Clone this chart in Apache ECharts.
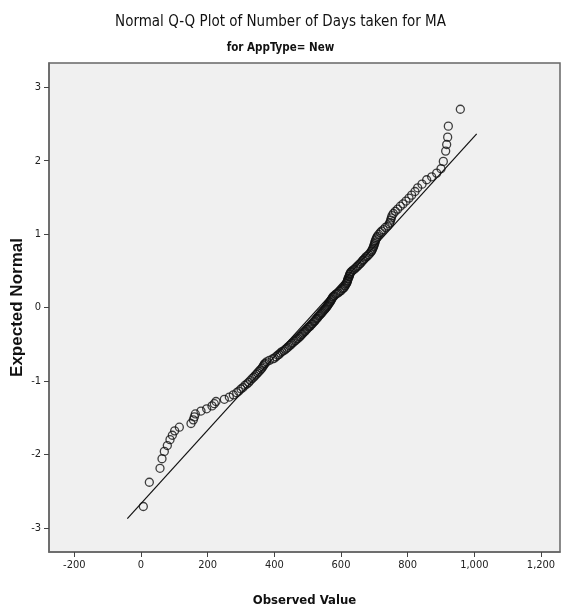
<!DOCTYPE html>
<html>
<head>
<meta charset="utf-8">
<script src="https://cdn.jsdelivr.net/npm/echarts@6/dist/echarts.min.js"></script>
<style>
html,body{margin:0;padding:0;background:#fff;}
#c{width:561px;height:615px;}
</style>
</head>
<body>
<div id="c"></div>
<script>
var observed = [7,25,57,63,70,79,87,94,101,115,150,157,160,163,180,197,213,220,225,250,265,277,287,293,300,306,312,318,323,328,333,338,342,346,350,354,358,362,365,368,370,373,377,385,395,400,405,410,414,418,423,428,433,437,441,445,449,452,456,460,464,467,471,475,478,481,484,487,490,493,496,499,502,505,508,511,514,517,520,522,525,527,530,532,535,538,540,543,545,548,551,553,556,
558,560,562,564,566,568,570,571,573,575,577,580,584,588,592,596,600,603,606,609,611,613,615,617,618,619,620,621,622,624,625,626,627,629,632,636,640,644,648,651,655,658,662,665,668,672,675,679,683,687,690,692,694,696,698,699,701,702,703,705,707,709,713,718,722,727,733,740,745,747,749,751,753,757,763,770,778,786,795,804,812,822,830,843,857,872,887,900,907,914,917,920,922,958];
var expected = [-2.71,-2.38,-2.19,-2.06,-1.96,-1.88,-1.80,-1.74,-1.68,-1.63,-1.58,-1.53,-1.49,-1.45,-1.41,-1.38,-1.34,-1.31,-1.28,-1.25,-1.22,-1.19,-1.16,-1.14,-1.11,-1.09,-1.06,-1.04,-1.02,-0.995,-0.97,-0.95,-0.93,-0.91,-0.89,-0.87,-0.85,-0.83,-0.81,-0.79,-0.77,-0.76,-0.74,-0.72,-0.70,-0.69,-0.67,-0.65,-0.64,-0.62,-0.60,-0.59,-0.57,-0.555,-0.54,-0.52,-0.51,-0.49,-0.48,-0.46,-0.45,-0.43,-0.42,-0.40,-0.39,-0.37,-0.36,-0.345,-0.33,-0.32,-0.30,-0.29,-0.27,-0.26,-0.25,-0.23,-0.22,-0.20,-0.19,-0.18,-0.16,-0.15,-0.14,-0.12,-0.11,-0.095,-0.08,-0.07,-0.054,-0.04,-0.027,-0.014,0,
0.014,0.027,0.04,0.054,0.07,0.08,0.095,0.11,0.12,0.14,0.15,0.16,0.18,0.19,0.20,0.22,0.23,0.25,0.26,0.27,0.29,0.30,0.32,0.33,0.345,0.36,0.37,0.39,0.40,0.42,0.43,0.45,0.46,0.48,0.49,0.51,0.52,0.54,0.555,0.57,0.59,0.60,0.62,0.64,0.65,0.67,0.69,0.70,0.72,0.74,0.76,0.77,0.79,0.81,0.83,0.85,0.87,0.89,0.91,0.93,0.95,0.97,0.995,1.02,1.04,1.06,1.09,1.11,1.14,1.16,1.19,1.22,1.25,1.28,1.31,1.34,1.38,1.41,1.45,1.49,1.53,1.58,1.63,1.68,1.74,1.78,1.83,1.89,1.99,2.13,2.22,2.32,2.47,2.70];
// Reference line end points
var lineX = [-41, 1007];
var lineY = [-2.875, 2.365];
// Tick labels
var xTicks = [-200, 0, 200, 400, 600, 800, 1000, 1200];
var yTicks = [-3, -2, -1, 0, 1, 2, 3];

var pts = observed.map(function(v, i){ return [v, expected[i]]; });
var linePts = lineX.map(function(v, i){ return [v, lineY[i]]; });

var narrow = "'DejaVu Sans Condensed', 'Liberation Sans Narrow', 'Arial Narrow', sans-serif";
var chart = echarts.init(document.getElementById('c'), null, {renderer: 'canvas'});
chart.setOption({
  animation: false,
  backgroundColor: '#ffffff',
  title: [
    {text: 'Normal Q-Q Plot of Number of Days taken for MA', left: 'center', top: 10,
     textStyle: {fontFamily: narrow, fontSize: 15, fontWeight: 'normal', color: '#111'}},
    {text: 'for AppType= New', left: 'center', top: 37,
     textStyle: {fontFamily: narrow, fontSize: 11.5, fontWeight: 'bold', color: '#111'}}
  ],
  grid: {left: 49, right: 1, top: 63, bottom: 63, show: true, backgroundColor: '#f0f0f0',
         borderColor: '#666', borderWidth: 1.5, outerBoundsMode: 'none', containLabel: false},
  xAxis: {
    type: 'value', min: -276, max: 1257,
    name: 'Observed Value', nameLocation: 'middle', nameGap: 42, nameMoveOverlap: false,
    nameTextStyle: {fontFamily: narrow, fontSize: 13, fontWeight: 'bold', color: '#111'},
    splitLine: {show: false},
    axisLine: {show: true, onZero: false, lineStyle: {color: '#666', width: 1.5}},
    axisTick: {show: true, length: 5, lineStyle: {color: '#444'}, customValues: xTicks},
    axisLabel: {customValues: xTicks, margin: 8, color: '#222', fontFamily: narrow, fontSize: 11,
      formatter: function(v){ return v.toLocaleString('en-US'); }}
  },
  yAxis: {
    type: 'value', min: -3.33, max: 3.33,
    name: 'Expected Normal', nameLocation: 'middle', nameGap: 23, nameRotate: 90, nameMoveOverlap: false,
    nameTextStyle: {fontFamily: "'Liberation Sans', Arial, sans-serif", fontSize: 17, fontWeight: 'bold', color: '#111'},
    splitLine: {show: false},
    axisLine: {show: true, onZero: false, lineStyle: {color: '#666', width: 1.5}},
    axisTick: {show: true, length: 5, lineStyle: {color: '#444'}, customValues: yTicks},
    axisLabel: {customValues: yTicks, margin: 8, color: '#222', fontFamily: narrow, fontSize: 11}
  },
  series: [
    {type: 'line', data: linePts, symbol: 'none', silent: true,
     lineStyle: {color: '#111', width: 1.2}, z: 2},
    {type: 'scatter', data: pts, symbol: 'circle', symbolSize: 8,
     itemStyle: {color: 'rgba(0,0,0,0)', borderColor: '#111', borderWidth: 1.3}, z: 3}
  ]
});
</script>
</body>
</html>
